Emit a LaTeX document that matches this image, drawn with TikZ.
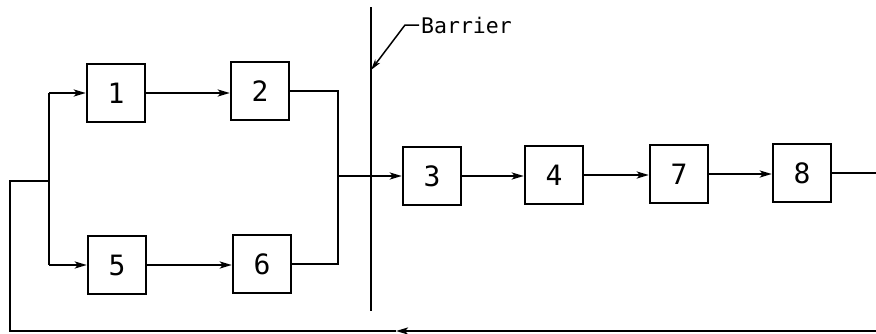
\documentclass[tikz,border=0pt]{standalone}
\usepackage{fontspec}
\newfontfamily\plotfont{DejaVu Sans Mono}
\usetikzlibrary{arrows.meta}
\begin{document}
\begin{tikzpicture}[x=1pt,y=-1pt,
  blk/.style={draw,line width=2.4pt,minimum width=58pt,minimum height=58pt,inner sep=0pt,font=\plotfont\fontsize{28}{28}\selectfont},
  wire/.style={line width=2.2pt},
  arr/.style={wire,-{Stealth[length=12pt,width=7pt,inset=3pt]}}]
\useasboundingbox (0,0) rectangle (876,333);
\node[blk] (b1) at (116,93) {1};
\node[blk] (b2) at (260,91) {2};
\node[blk] (b5) at (117,265) {5};
\node[blk] (b6) at (262,264) {6};
\node[blk] (b3) at (432,176) {3};
\node[blk] (b4) at (554,175) {4};
\node[blk] (b7) at (679,174) {7};
\node[blk] (b8) at (802,173) {8};
\coordinate (bt) at (49,93);
\coordinate (bb) at (49,265);
\coordinate (fb) at (49,181);
\coordinate (fl) at (10,181);
\coordinate (fbl) at (10,331);
\coordinate (fa) at (396,331);
\coordinate (fr) at (876,331);
\coordinate (o8) at (876,173);
\coordinate (jt) at (338,91);
\coordinate (jb) at (338,264);
\coordinate (jm) at (338,176);
\coordinate (bart) at (371,7);
\coordinate (barb) at (371,311);
\coordinate (bartip) at (371,70);
\coordinate (lk) at (405,25);
\coordinate (le) at (419,25);
% left bus
\draw[wire] (bt) -- (bb);
\draw[arr] (bt) -- (b1.west);
\draw[arr] (bb) -- (b5.west);
\draw[arr] (b1.east) -- (b1.east -| b2.west);
\draw[arr] (b5.east) -- (b5.east -| b6.west);
% right bus
\draw[wire] (b2.east) -- (jt) -- (jb) -- (b6.east);
\draw[arr] (jm) -- (b3.west);
\draw[arr] (b3.east) -- (b3.east -| b4.west);
\draw[arr] (b4.east) -- (b4.east -| b7.west);
\draw[arr] (b7.east) -- (b7.east -| b8.west);
\draw[wire] (b8.east) -- (o8);
% feedback
\draw[arr] (fr) -- (fa);
\draw[wire] (fa) -- (fbl) -- (fl) -- (fb);
% barrier
\draw[line width=1.8pt] (bart) -- (barb);
\draw[line width=1.5pt,-{Stealth[length=11pt,width=6pt,inset=3pt]}] (le) -- (lk) -- (bartip);
\node[anchor=west,inner sep=2pt,font=\plotfont\fontsize{21.5}{21.5}\selectfont] (lbl) at (le) {Barrier};
\end{tikzpicture}
\end{document}
